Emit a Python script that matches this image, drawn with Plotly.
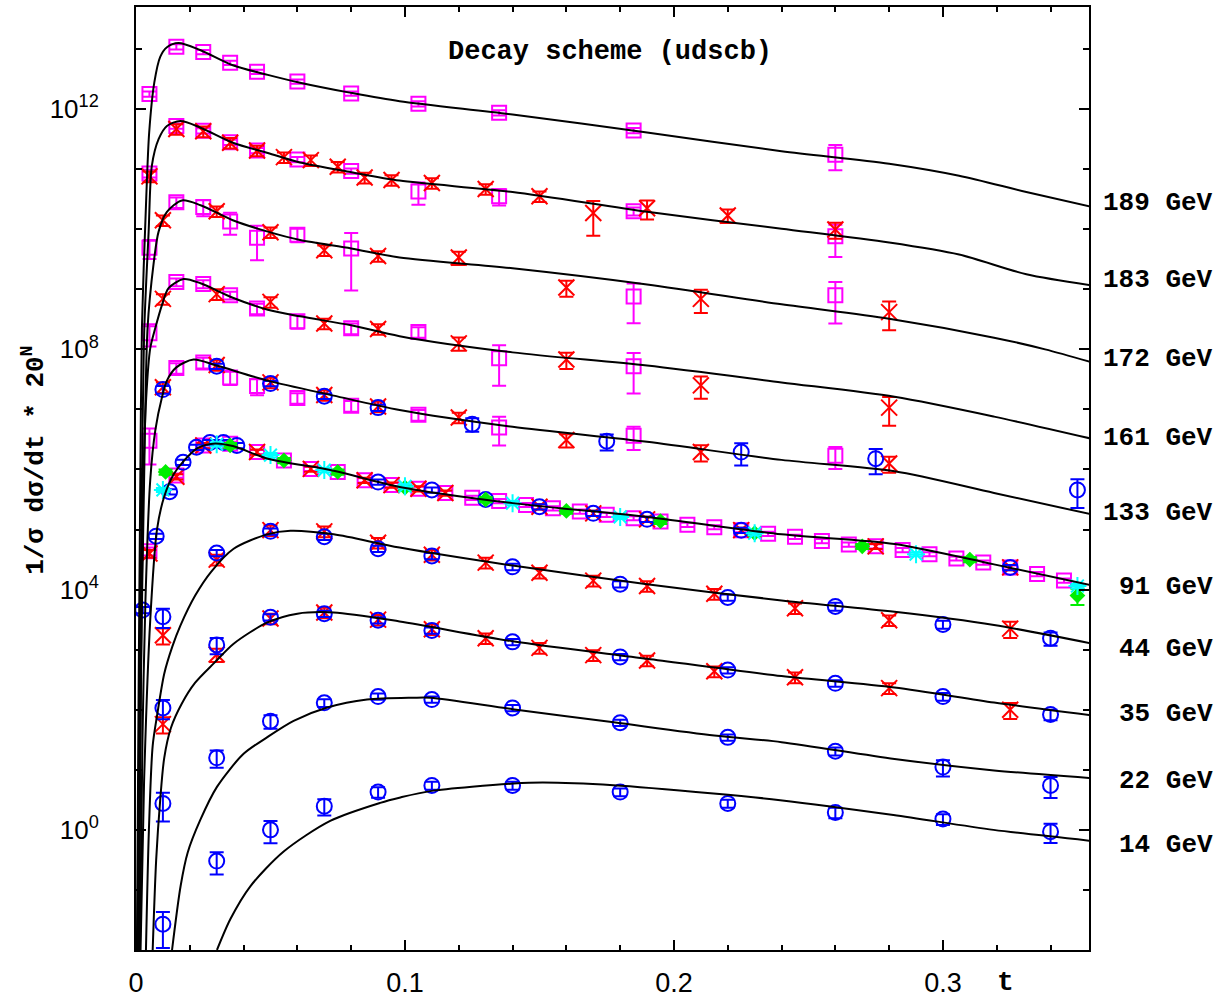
import plotly.graph_objects as go

# ---------------- theory curves: t and log10(1/sigma dsigma/dt * 20^N) ----------------
t_189 = [0.0003, 0.0010, 0.0016, 0.0022, 0.0038, 0.0049, 0.0068, 0.0090, 0.0115, 0.0158, 0.024, 0.036,
         0.049, 0.061, 0.080, 0.098, 0.140, 0.190, 0.240, 0.280, 0.306, 0.331, 0.3545]
lg_189 = [-2.2, 2.5, 5.8, 8.36, 10.51, 11.61, 12.44, 12.87, 13.03, 13.10, 12.98, 12.73,
          12.57, 12.44, 12.27, 12.13, 11.91, 11.61, 11.30, 11.09, 10.89, 10.62, 10.38]

t_183 = [0.0005, 0.0014, 0.0022, 0.0031, 0.0047, 0.0059, 0.0084, 0.0115, 0.0165, 0.024, 0.036, 0.049,
         0.061, 0.080, 0.098, 0.140, 0.190, 0.240, 0.280, 0.306, 0.331, 0.3545]
lg_183 = [-2.2, 2.5, 5.8, 8.36, 9.96, 11.06, 11.50, 11.72, 11.80, 11.69, 11.44, 11.27,
          11.11, 10.95, 10.81, 10.62, 10.29, 10.01, 9.78, 9.58, 9.25, 9.07]

t_172 = [0.0007, 0.0018, 0.0030, 0.0043, 0.0065, 0.0084, 0.0115, 0.0171, 0.024, 0.036, 0.049, 0.061,
         0.080, 0.098, 0.140, 0.190, 0.240, 0.280, 0.319, 0.338, 0.3545]
lg_172 = [-2.2, 2.5, 5.8, 8.36, 9.41, 9.96, 10.29, 10.48, 10.40, 10.15, 9.96, 9.82,
          9.68, 9.53, 9.35, 9.08, 8.75, 8.51, 8.195, 8.00, 7.795]

t_161 = [0.0011, 0.0018, 0.0026, 0.0038, 0.0053, 0.0072, 0.0097, 0.0121, 0.0177, 0.024, 0.036, 0.049,
         0.061, 0.080, 0.098, 0.140, 0.190, 0.240, 0.282, 0.319, 0.3545]
lg_161 = [-2.2, 2.3, 5.55, 7.2, 8.02, 8.36, 8.746, 9.02, 9.17, 9.10, 8.86, 8.66,
          8.55, 8.40, 8.22, 7.95, 7.73, 7.45, 7.21, 6.88, 6.52]

t_133 = [0.0014, 0.0024, 0.0035, 0.0053, 0.0072, 0.0097, 0.0115, 0.0150, 0.0214, 0.030, 0.049, 0.0735,
         0.098, 0.140, 0.190, 0.240, 0.282, 0.319, 0.3545]
lg_133 = [-2.2, 1.5, 3.8, 5.83, 6.66, 7.21, 7.48, 7.70, 7.83, 7.73, 7.48, 7.23,
          6.99, 6.71, 6.46, 6.16, 5.97, 5.61, 5.26]

t_91 = [0.0016, 0.0030, 0.0053, 0.0078, 0.0105, 0.0140, 0.0177, 0.0230, 0.0287, 0.036, 0.049, 0.0735,
        0.098, 0.140, 0.190, 0.240, 0.282, 0.319, 0.3545]
lg_91 = [-2.2, 0.8, 3.5, 5.0, 5.55, 5.92, 6.14, 6.36, 6.43, 6.39, 6.18, 5.98,
         5.71, 5.44, 5.21, 4.92, 4.76, 4.42, 4.08]

t_44 = [0.0037, 0.0048, 0.0062, 0.0080, 0.0105, 0.0135, 0.0165, 0.0220, 0.0280, 0.0363, 0.0487, 0.0574,
        0.0735, 0.098, 0.140, 0.190, 0.240, 0.282, 0.319, 0.3545]
lg_44 = [-2.0, 0.0, 1.4, 1.95, 2.6, 3.05, 3.40, 3.90, 4.30, 4.68, 4.92, 4.98,
         4.92, 4.70, 4.40, 4.09, 3.82, 3.63, 3.41, 3.11]

t_35 = [0.0062, 0.0075, 0.0090, 0.0105, 0.0130, 0.0170, 0.0220, 0.0291, 0.0363, 0.0487, 0.060, 0.0735,
        0.098, 0.140, 0.190, 0.240, 0.282, 0.319, 0.3545]
lg_35 = [-2.0, -0.5, 0.5, 1.2, 1.7, 2.1, 2.45, 2.78, 3.10, 3.45, 3.60, 3.62,
         3.47, 3.14, 2.85, 2.56, 2.37, 2.12, 1.91]

t_22 = [0.0134, 0.0166, 0.0192, 0.0239, 0.0301, 0.0400, 0.0487, 0.0586, 0.0711, 0.0859, 0.103, 0.1095,
        0.140, 0.1776, 0.215, 0.240, 0.282, 0.319, 0.3545]
lg_22 = [-2.0, -0.93, -0.38, 0.165, 0.716, 1.266, 1.54, 1.815, 2.036, 2.17, 2.20, 2.20,
         2.01, 1.79, 1.57, 1.46, 1.18, 0.99, 0.865]

t_14 = [0.0301, 0.0351, 0.0425, 0.0549, 0.0722, 0.0908, 0.0983, 0.1094, 0.1404, 0.1513, 0.1775, 0.2147,
        0.2395, 0.2816, 0.3188, 0.3544]
lg_14 = [-2.0, -1.485, -0.94, -0.36, 0.15, 0.45, 0.54, 0.645, 0.77, 0.787, 0.743, 0.605,
         0.495, 0.248, 0.0, -0.18]

energy_labels = ["189 GeV", "183 GeV", "172 GeV", "161 GeV", "133 GeV",
                 "91 GeV", "44 GeV", "35 GeV", "22 GeV", "14 GeV"]

# ---------------- data points: t, log10 value, relative error ----------------
# magenta squares
sq189_t = [0.005, 0.015, 0.025, 0.035, 0.045, 0.06, 0.08, 0.105, 0.135, 0.185, 0.26]
sq189_lg = [12.25, 13.04, 12.95, 12.77, 12.62, 12.46, 12.26, 12.09, 11.94, 11.645, 11.24]
sq189_e = [0.1, 0.1, 0.08, 0.08, 0.08, 0.08, 0.08, 0.1, 0.1, 0.1, 0.45]

sq183_t = [0.005, 0.015, 0.025, 0.035, 0.045, 0.06, 0.08, 0.105, 0.135, 0.185, 0.26]
sq183_lg = [10.93, 11.72, 11.64, 11.45, 11.31, 11.16, 10.97, 10.63, 10.55, 10.30, 9.885]
sq183_e = [0.15, 0.1, 0.1, 0.1, 0.1, 0.1, 0.1, 0.4, 0.3, 0.15, 0.55]

sq172_t = [0.005, 0.015, 0.025, 0.035, 0.045, 0.06, 0.08, 0.185, 0.26]
sq172_lg = [9.69, 10.45, 10.37, 10.13, 9.86, 9.91, 9.68, 8.88, 8.90]
sq172_e = [0.35, 0.2, 0.3, 0.4, 0.58, 0.25, 0.8, 0.64, 0.66]

sq161_t = [0.005, 0.015, 0.025, 0.035, 0.045, 0.06, 0.08, 0.105, 0.135, 0.185]
sq161_lg = [8.27, 9.12, 9.09, 8.90, 8.68, 8.47, 8.35, 8.29, 7.85, 7.72]
sq161_e = [0.4, 0.15, 0.15, 0.15, 0.2, 0.25, 0.2, 0.2, 0.65, 0.65]

sq133_t = [0.005, 0.015, 0.025, 0.035, 0.045, 0.06, 0.08, 0.105, 0.135, 0.185, 0.26]
sq133_lg = [6.48, 7.69, 7.78, 7.53, 7.39, 7.19, 7.06, 6.91, 6.70, 6.56, 6.23]
sq133_e = [0.6, 0.2, 0.2, 0.25, 0.3, 0.2, 0.2, 0.2, 0.5, 0.42, 0.4]

sq91_t = [0.005, 0.015, 0.025, 0.035, 0.045, 0.055, 0.065, 0.075, 0.085, 0.095, 0.105, 0.115,
          0.125, 0.135, 0.145, 0.155, 0.165, 0.175, 0.185, 0.195, 0.205, 0.215, 0.225, 0.235,
          0.245, 0.255, 0.265, 0.275, 0.285, 0.295, 0.305, 0.315, 0.325, 0.335, 0.345]
sq91_lg = [4.64, 5.90, 6.40, 6.43, 6.29, 6.15, 6.01, 5.96, 5.82, 5.74, 5.68, 5.61,
           5.53, 5.475, 5.41, 5.355, 5.30, 5.245, 5.19, 5.135, 5.08, 5.04, 4.99, 4.93,
           4.88, 4.81, 4.75, 4.72, 4.66, 4.59, 4.52, 4.45, 4.37, 4.26, 4.15]
sq91_e = [0.15, 0.08, 0.08, 0.08, 0.08, 0.08, 0.08, 0.08, 0.08, 0.08, 0.08, 0.08,
          0.08, 0.08, 0.08, 0.08, 0.08, 0.08, 0.08, 0.08, 0.08, 0.08, 0.08, 0.08,
          0.08, 0.08, 0.08, 0.08, 0.08, 0.08, 0.08, 0.08, 0.08, 0.08, 0.08]

# red crosses
rx183_t = [0.005, 0.015, 0.025, 0.035, 0.045, 0.055, 0.065, 0.075, 0.085, 0.095, 0.11, 0.13,
           0.15, 0.17, 0.19, 0.22, 0.26]
rx183_lg = [10.88, 11.67, 11.63, 11.44, 11.31, 11.20, 11.15, 11.04, 10.86, 10.82, 10.77, 10.67,
            10.55, 10.27, 10.35, 10.23, 9.995]
rx183_e = [0.2, 0.2, 0.2, 0.2, 0.2, 0.2, 0.2, 0.2, 0.2, 0.2, 0.2, 0.2, 0.2, 0.58, 0.35, 0.25, 0.3]

rx172_t = [0.01, 0.03, 0.05, 0.07, 0.09, 0.12, 0.16, 0.21, 0.28]
rx172_lg = [10.15, 10.30, 9.95, 9.65, 9.555, 9.53, 9.03, 8.84, 8.62]
rx172_e = [0.2, 0.2, 0.2, 0.2, 0.2, 0.25, 0.3, 0.42, 0.5]

rx161_t = [0.01, 0.03, 0.05, 0.07, 0.09, 0.12, 0.16, 0.21, 0.28]
rx161_lg = [8.84, 8.92, 8.79, 8.43, 8.34, 8.10, 7.83, 7.40, 7.03]
rx161_e = [0.2, 0.2, 0.2, 0.2, 0.2, 0.25, 0.3, 0.4, 0.5]

rx133_t = [0.01, 0.03, 0.05, 0.07, 0.09, 0.12, 0.16, 0.21, 0.28]
rx133_lg = [7.37, 7.74, 7.45, 7.24, 7.05, 6.865, 6.49, 6.29, 6.10]
rx133_e = [0.2, 0.2, 0.2, 0.2, 0.2, 0.2, 0.25, 0.3, 0.3]

rx91_t = [0.005, 0.015, 0.025, 0.045, 0.065, 0.085, 0.095, 0.105, 0.115, 0.15, 0.17, 0.19, 0.225, 0.275, 0.325]
rx91_lg = [4.60, 5.88, 6.40, 6.29, 6.01, 5.82, 5.74, 5.68, 5.61, 5.38, 5.27, 5.17, 4.99, 4.72, 4.37]
rx91_e = [0.15, 0.1, 0.1, 0.1, 0.1, 0.1, 0.1, 0.1, 0.1, 0.1, 0.1, 0.1, 0.1, 0.1, 0.1]

rx44_t = [0.01, 0.03, 0.05, 0.07, 0.09, 0.11, 0.13, 0.15, 0.17, 0.19, 0.215, 0.245, 0.28, 0.325]
rx44_lg = [3.24, 4.50, 4.99, 4.97, 4.78, 4.58, 4.45, 4.28, 4.15, 4.06, 3.93, 3.69, 3.49, 3.35]
rx44_e = [0.3, 0.2, 0.2, 0.2, 0.2, 0.2, 0.2, 0.2, 0.2, 0.2, 0.2, 0.2, 0.2, 0.3]

rx35_t = [0.01, 0.03, 0.05, 0.07, 0.09, 0.11, 0.13, 0.15, 0.17, 0.19, 0.215, 0.245, 0.28, 0.325]
rx35_lg = [1.76, 2.92, 3.52, 3.62, 3.50, 3.34, 3.19, 3.03, 2.91, 2.82, 2.64, 2.54, 2.36, 2.00]
rx35_e = [0.3, 0.25, 0.2, 0.2, 0.2, 0.2, 0.2, 0.2, 0.2, 0.2, 0.2, 0.2, 0.2, 0.3]

# blue circles
bc133_t = [0.01, 0.03, 0.05, 0.07, 0.09, 0.125, 0.175, 0.225, 0.275, 0.35]
bc133_lg = [7.33, 7.72, 7.43, 7.22, 7.03, 6.755, 6.47, 6.29, 6.18, 5.66]
bc133_e = [0.15, 0.1, 0.1, 0.1, 0.12, 0.25, 0.3, 0.4, 0.45, 0.5]

bc91_t = [0.0025, 0.0075, 0.0125, 0.0175, 0.0225, 0.0275, 0.0325, 0.0375, 0.09, 0.11, 0.13, 0.15,
          0.17, 0.19, 0.225, 0.325]
bc91_lg = [3.66, 4.89, 5.63, 6.12, 6.37, 6.45, 6.45, 6.40, 5.79, 5.66, 5.50, 5.38,
           5.27, 5.17, 4.99, 4.37]
bc91_e = [0.12, 0.1, 0.1, 0.1, 0.1, 0.1, 0.1, 0.1, 0.1, 0.1, 0.1, 0.1, 0.1, 0.1, 0.1, 0.1]

bc44_t = [0.01, 0.03, 0.05, 0.07, 0.09, 0.11, 0.14, 0.18, 0.22, 0.26, 0.30, 0.34]
bc44_lg = [3.55, 4.61, 4.97, 4.88, 4.68, 4.56, 4.38, 4.09, 3.87, 3.72, 3.42, 3.19]
bc44_e = [0.35, 0.12, 0.12, 0.12, 0.12, 0.12, 0.12, 0.12, 0.12, 0.15, 0.15, 0.25]

bc35_t = [0.01, 0.03, 0.05, 0.07, 0.09, 0.11, 0.14, 0.18, 0.22, 0.26, 0.30, 0.34]
bc35_lg = [2.03, 3.08, 3.54, 3.60, 3.49, 3.32, 3.13, 2.88, 2.66, 2.44, 2.22, 1.92]
bc35_e = [0.35, 0.3, 0.12, 0.12, 0.12, 0.12, 0.12, 0.12, 0.12, 0.12, 0.15, 0.2]

bc22_t = [0.01, 0.03, 0.05, 0.07, 0.09, 0.11, 0.14, 0.18, 0.22, 0.26, 0.30, 0.34]
bc22_lg = [0.44, 1.20, 1.81, 2.115, 2.22, 2.17, 2.03, 1.785, 1.54, 1.31, 1.045, 0.74]
bc22_e = [0.5, 0.32, 0.25, 0.15, 0.12, 0.12, 0.12, 0.12, 0.12, 0.15, 0.3, 0.38]

bc14_t = [0.01, 0.03, 0.05, 0.07, 0.09, 0.11, 0.14, 0.18, 0.22, 0.26, 0.30, 0.34]
bc14_lg = [-1.57, -0.52, 0.0, 0.395, 0.63, 0.74, 0.74, 0.63, 0.44, 0.29, 0.18, -0.03]
bc14_e = [0.6, 0.4, 0.4, 0.3, 0.2, 0.15, 0.15, 0.15, 0.15, 0.2, 0.2, 0.35]

# green diamonds and cyan stars (91 GeV)
gd91_t = [0.011, 0.035, 0.055, 0.075, 0.10, 0.13, 0.16, 0.195, 0.23, 0.27, 0.31, 0.35]
gd91_lg = [5.96, 6.40, 6.15, 5.96, 5.70, 5.50, 5.31, 5.14, 4.94, 4.72, 4.50, 3.90]
gd91_e = [0.1, 0.1, 0.1, 0.1, 0.1, 0.1, 0.1, 0.1, 0.1, 0.1, 0.1, 0.3]

cs91_t = [0.01, 0.03, 0.05, 0.07, 0.10, 0.14, 0.18, 0.23, 0.29, 0.35]
cs91_lg = [5.66, 6.42, 6.24, 5.99, 5.72, 5.44, 5.21, 4.94, 4.59, 4.06]
cs91_e = [0.08, 0.08, 0.08, 0.08, 0.08, 0.08, 0.08, 0.08, 0.08, 0.08]

# ---------------- figure ----------------
MAG, RED, BLUE, GREEN, CYAN = "#ff00ff", "#ff0000", "#0000ff", "#00ee00", "#00ffff"

fig = go.Figure()


def add_points(t, lg, e, color, symbol, size):
    y = [10 ** v for v in lg]
    up = [v * r for v, r in zip(y, e)]
    dn = [v * min(r, 0.97) for v, r in zip(y, e)]
    marker = dict(symbol=symbol, size=size, color=color,
                  line=dict(color=color, width=2))
    fig.add_trace(go.Scatter(
        x=t, y=y, mode="markers", marker=marker, showlegend=False,
        error_y=dict(type="data", symmetric=False, array=up, arrayminus=dn,
                     color=color, thickness=2, width=7)))


for t, lg, e in [(sq189_t, sq189_lg, sq189_e), (sq183_t, sq183_lg, sq183_e),
                 (sq172_t, sq172_lg, sq172_e), (sq161_t, sq161_lg, sq161_e),
                 (sq133_t, sq133_lg, sq133_e), (sq91_t, sq91_lg, sq91_e)]:
    add_points(t, lg, e, MAG, "square-open", 14)

for t, lg, e in [(rx183_t, rx183_lg, rx183_e), (rx172_t, rx172_lg, rx172_e),
                 (rx161_t, rx161_lg, rx161_e), (rx133_t, rx133_lg, rx133_e),
                 (rx91_t, rx91_lg, rx91_e), (rx44_t, rx44_lg, rx44_e),
                 (rx35_t, rx35_lg, rx35_e)]:
    add_points(t, lg, e, RED, "x-thin-open", 16)

for t, lg, e in [(bc133_t, bc133_lg, bc133_e), (bc91_t, bc91_lg, bc91_e),
                 (bc44_t, bc44_lg, bc44_e), (bc35_t, bc35_lg, bc35_e),
                 (bc22_t, bc22_lg, bc22_e), (bc14_t, bc14_lg, bc14_e)]:
    add_points(t, lg, e, BLUE, "circle-open", 15)

add_points(gd91_t, gd91_lg, gd91_e, GREEN, "diamond", 10)
add_points(cs91_t, cs91_lg, cs91_e, CYAN, "asterisk-open", 15)

curves = [(t_189, lg_189), (t_183, lg_183), (t_172, lg_172), (t_161, lg_161),
          (t_133, lg_133), (t_91, lg_91), (t_44, lg_44), (t_35, lg_35),
          (t_22, lg_22), (t_14, lg_14)]
for t, lg in curves:
    fig.add_trace(go.Scatter(x=t, y=[10 ** v for v in lg], mode="lines",
                             line=dict(color="black", width=2, shape="spline", smoothing=0.8),
                             showlegend=False, hoverinfo="skip"))

MONO = "Liberation Mono"
SANS = "Liberation Sans"

# energy labels at right, right-aligned
label_lg = [10.44, 9.155, 7.837, 6.52, 5.27, 4.05, 3.011, 1.925, 0.82, -0.25]
for txt, ly in zip(energy_labels, label_lg):
    fig.add_annotation(x=1.1322, y=ly, xref="paper", yref="y", text=txt, showarrow=False,
                       xanchor="right", yanchor="middle",
                       font=dict(family=MONO, size=26, color="black", weight="bold"))

fig.add_annotation(x=0.1763, y=0.9528, xref="x", yref="paper", text="Decay scheme (udscb)",
                   showarrow=False, xanchor="center", yanchor="middle",
                   font=dict(family=MONO, size=27, color="black", weight="bold"))
fig.add_annotation(x=0.3232, y=-0.034, xref="x", yref="paper", text="t", showarrow=False,
                   xanchor="center", yanchor="middle",
                   font=dict(family=MONO, size=28, color="black", weight="bold"))
fig.add_annotation(x=-0.1078, y=0.519, xref="paper", yref="paper",
                   text="1/σ dσ/dt * 20<sup>N</sup>", textangle=-90, showarrow=False,
                   xanchor="center", yanchor="middle",
                   font=dict(family=MONO, size=26, color="black", weight="bold"))

fig.update_layout(
    width=1225, height=1003,
    margin=dict(l=136, r=136, t=5, b=45),
    plot_bgcolor="white", paper_bgcolor="white",
    showlegend=False,
)
fig.update_xaxes(
    range=[0, 0.3543], showgrid=False, zeroline=False,
    showline=True, linecolor="black", linewidth=2, mirror="ticks",
    tickmode="array", tickvals=[0, 0.1, 0.2, 0.3], ticktext=["0", "0.1", "0.2", "0.3"],
    ticks="inside", ticklen=10, tickwidth=2, tickcolor="black",
    minor=dict(dtick=0.02, tick0=0, ticks="inside", ticklen=5, tickwidth=2, tickcolor="black"),
    tickfont=dict(family=SANS, size=27, color="black"), ticklabelstandoff=8,
)
fig.update_yaxes(
    type="log", range=[-2, 13.7], showgrid=False, zeroline=False,
    showline=True, linecolor="black", linewidth=2, mirror="ticks",
    tickmode="array", tickvals=[1, 1e4, 1e8, 1e12],
    ticktext=["10<sup>0</sup>", "10<sup>4</sup>", "10<sup>8</sup>", "10<sup>12</sup>"],
    ticks="inside", ticklen=10, tickwidth=2, tickcolor="black",
    minor=dict(tickmode="array", tickvals=[10.0 ** k for k in range(-2, 14)],
               ticks="inside", ticklen=6, tickwidth=2, tickcolor="black"),
    tickfont=dict(family=SANS, size=26, color="black"), ticklabelstandoff=30,
)

fig.write_html("out.html")
